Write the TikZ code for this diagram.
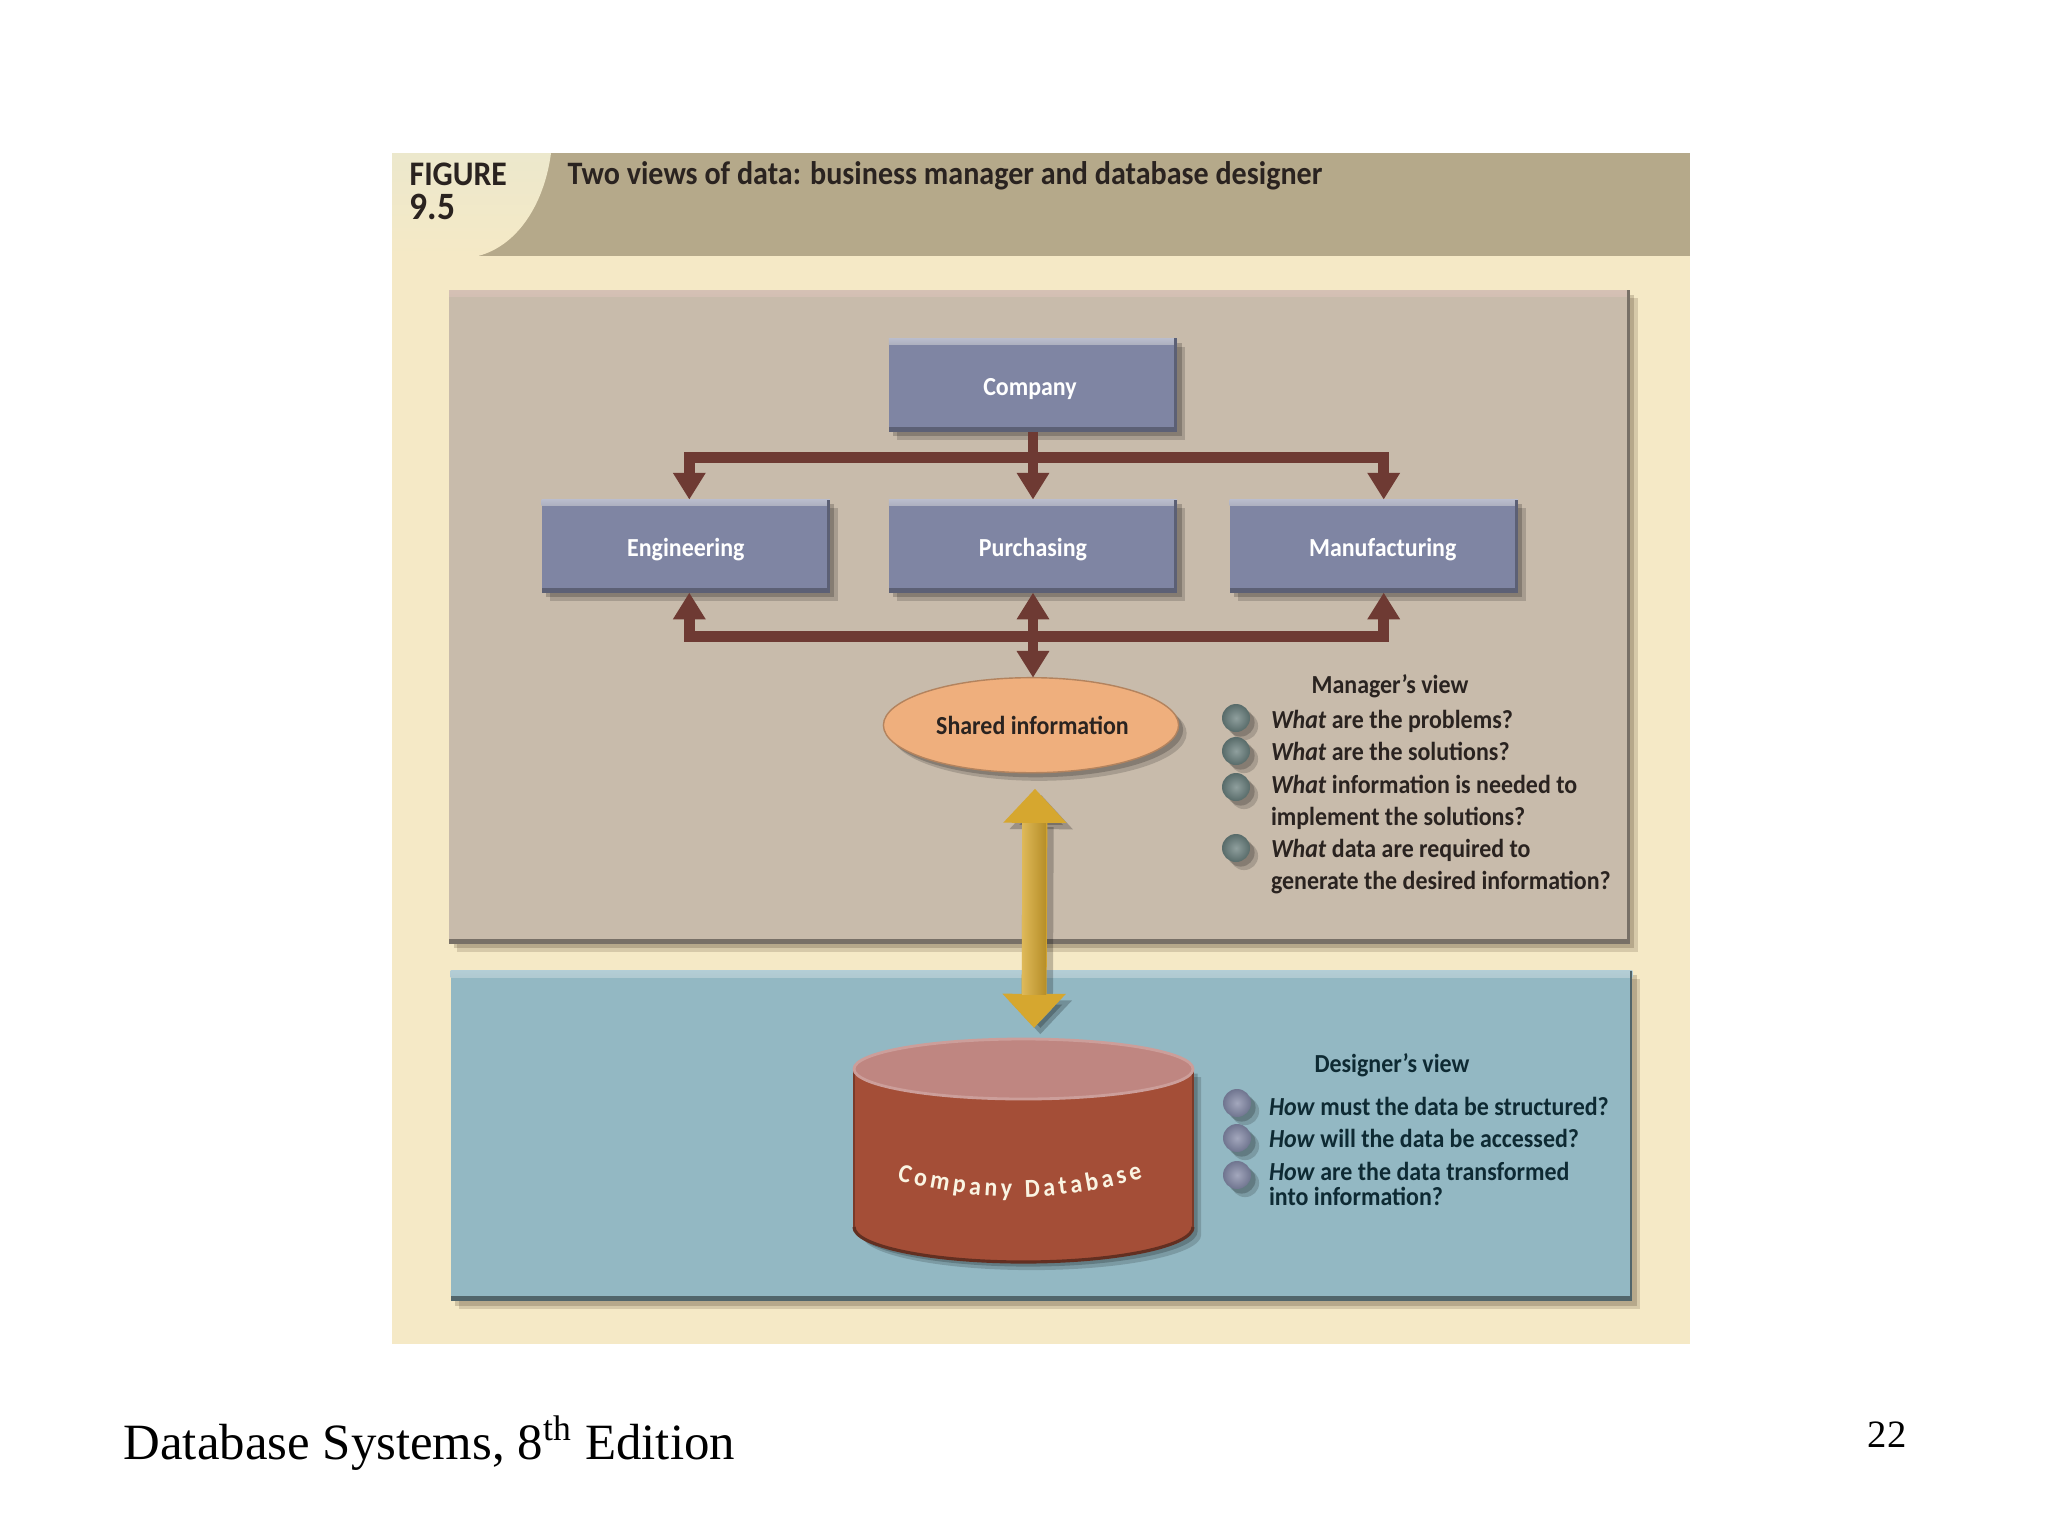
\documentclass[tikz,border=0pt]{standalone}
\usepackage{fontspec}
\setmainfont[FakeStretch=0.92]{Carlito}
\newfontfamily\footerfont{Liberation Serif}
\usetikzlibrary{positioning, shapes.geometric, arrows.meta, calc, shadows, decorations.text}

\definecolor{creamback}{HTML}{F5E9C6}
\definecolor{headerband}{HTML}{B5A98A}
\definecolor{cornerlight}{HTML}{ECE8CC}
\definecolor{managerfill}{HTML}{C8BBAB}
\definecolor{designerfill}{HTML}{93B8C3}
\definecolor{boxfill}{HTML}{7F85A3}
\definecolor{treecolor}{HTML}{6E3A33}
\definecolor{goldcolor}{HTML}{D6A72F}
\definecolor{sharedfill}{HTML}{EFAF7D}
\definecolor{dbbody}{HTML}{A44E37}
\definecolor{dbtop}{HTML}{BF8681}
\definecolor{inkdark}{HTML}{2A2320}
\definecolor{inkblue}{HTML}{0E2A33}
\definecolor{ballgrey}{HTML}{647A78}

\begin{document}
\begin{tikzpicture}[
    x=0.01cm, y=-0.01cm,
    bevel/.style n args={2}{path picture={
        \shade[top color=#1, bottom color=.] (path picture bounding box.north west) rectangle ([yshift=-1.8pt]path picture bounding box.north east);
        \fill[#2] (path picture bounding box.south west) rectangle ([yshift=1.4pt]path picture bounding box.south east);
        \fill[#2] (path picture bounding box.north east) rectangle ([xshift=-0.8pt]path picture bounding box.south east);
    }},
    softshadow/.style={drop shadow={shadow xshift=2.3pt, shadow yshift=-2.3pt, fill=#1, opacity=0.16}, drop shadow={shadow xshift=1.3pt, shadow yshift=-1.3pt, fill=#1, opacity=0.2}},
    panel/.style={rectangle, inner sep=0pt, outer sep=0pt, softshadow=black!70!brown},
    box/.style={rectangle, fill=boxfill, text=white, font=\fontsize{7.4}{8}\selectfont\bfseries, text height=7.6pt, text depth=1.5pt, minimum width=2.88cm, minimum height=0.93cm, inner sep=0pt, outer sep=0pt, bevel={boxfill!55!white}{boxfill!72!black}, softshadow=black},
    treearrow/.style={-{Triangle[width=8.8pt, length=7.6pt]}, line width=3.1pt, draw=treecolor},
    goldarrow/.style={{Triangle[width=17.4pt, length=9.7pt]}-{Triangle[width=17.4pt, length=9.7pt]}, line width=7.1pt, draw=goldcolor},
    ball/.style={circle, minimum size=0.28cm, inner sep=0pt, inner color=#1!72!white, outer color=#1!88!black, softshadow=black},
    question/.style={inner sep=0pt, outer sep=0pt, anchor=north west, align=left, text=#1, font=\fontsize{7.4}{9.2}\selectfont\bfseries},
    viewtitle/.style={inner sep=0pt, text=#1, font=\fontsize{7.4}{9.2}\selectfont\bfseries}
]
\useasboundingbox (0,0) rectangle (2048,1536);
\fill[white] (0,0) rectangle (2048,1536);

% Cream page and header band
\fill[creamback] (392,153) rectangle (1690,1344);
\fill[headerband] (392,153) rectangle (1690,256);
\shade[top color=cornerlight, bottom color=creamback] (392,153) -- (551,153) .. controls (545,200) and (520,245) .. (478,256) -- (392,256) -- cycle;

% Header texts
\node[inner sep=0pt, anchor=north west, align=left, text=inkdark, font=\fontsize{9.8}{10}\selectfont\bfseries] (figlabel) at (409,162) {FIGURE\\[-0.3pt]\fontsize{11}{10}\selectfont 9.5};
\node[inner sep=0pt, anchor=west, text=inkdark, font=\fontsize{9.3}{10}\selectfont\bfseries] (figtitle) at (567,176) {Two views of data: business manager and database designer};

% Panels
\node[panel, fill=managerfill, minimum width=11.8cm, minimum height=6.53cm, bevel={managerfill!80!white!96!red}{managerfill!60!black}] (managerpanel) at (1039.5,617) {};
\node[panel, fill=designerfill, minimum width=11.81cm, minimum height=3.3cm, bevel={designerfill!70!white}{designerfill!55!black}] (designerpanel) at (1041.5,1136) {};

% Organisation boxes
\node[box] (company) at (1033,385) {\hspace{-0.06cm}Company};
\node[box, below=0.68cm of company] (purchasing) {Purchasing};
\node[box, left=0.59cm of purchasing] (engineering) {Engineering};
\node[box, right=0.525cm of purchasing] (manufacturing) {\hspace{0.18cm}Manufacturing};

% Shared information
\node[ellipse, draw=sharedfill!75!black, fill=sharedfill, below=0.85cm of purchasing, xshift=-0.02cm, minimum width=2.95cm, minimum height=0.95cm, inner sep=0pt, outer sep=0pt, text=inkdark, font=\fontsize{7.4}{8}\selectfont\bfseries, text height=7pt, text depth=1.5pt, softshadow=black] (shared) {\hspace{0.03cm}Shared information};

% Database
\node[rectangle, minimum width=3.39cm, minimum height=2.23cm, inner sep=0pt, outer sep=0pt] (database) at (1023.5,1150.5) {};
\fill[dbbody, softshadow=black] (854,1069) -- (854,1227) .. controls (854,1246) and (930,1262) .. (1023.5,1262) .. controls (1117,1262) and (1193,1246) .. (1193,1227) -- (1193,1069) -- cycle;
\draw[line width=0.9pt, dbbody!60!black] (854,1227) .. controls (854,1246) and (930,1262) .. (1023.5,1262) .. controls (1117,1262) and (1193,1246) .. (1193,1227);
\draw[line width=0.6pt, dbbody!75!black] (854,1069) -- (854,1227);
\draw[line width=0.6pt, dbbody!75!black] (1193,1069) -- (1193,1227);
\fill[dbtop, draw=dbtop!80!white, line width=0.8pt] (1023.5,1069) ellipse [x radius=169.5, y radius=30];
\path[decorate, decoration={text along path, text align=fit to path, text={|\fontsize{7.4}{8}\selectfont\bfseries\color{creamback!50!white}|Company Database}}] (897,1180) .. controls (980,1203) and (1060,1203) .. (1143,1178);

% Bus coordinates
\coordinate[below=0.255cm of company] (topbus);
\coordinate[below=0.435cm of purchasing] (lowbus);

% Tree arrows
\draw[treearrow, -] (company) -- (topbus);
\draw[treearrow] (topbus) -- (purchasing);
\draw[treearrow] (topbus) -| ([xshift=0.035cm]engineering.north);
\draw[treearrow] (topbus) -| ([xshift=0.1cm]manufacturing.north);
\draw[treearrow] (lowbus) -- (purchasing);
\draw[treearrow] (lowbus) -| ([xshift=0.035cm]engineering.south);
\draw[treearrow] (lowbus) -| ([xshift=0.1cm]manufacturing.south);
\draw[treearrow] (lowbus) -- ([xshift=0.02cm]shared.north);

% Gold arrow
\draw[goldarrow, draw=black, opacity=0.22, transform canvas={shift={(1.8pt,-1.8pt)}}] ([shift={(4,16)}]shared.south) -- ([shift={(10.5,-11)}]database.north);
\draw[goldarrow] ([shift={(4,16)}]shared.south) -- ([shift={(10.5,-11)}]database.north);
\shade[left color=goldcolor!80!white, middle color=goldcolor, right color=goldcolor!85!black] (1022,823) rectangle (1046,994);

% Manager's view
\node[viewtitle=inkdark] (managertitle) at (1390,686) {Manager's view};
\node[ball=ballgrey] (mball1) at (1236,718) {};
\node[ball=ballgrey] (mball2) at (1236,751) {};
\node[ball=ballgrey] (mball3) at (1236,787) {};
\node[ball=ballgrey] (mball4) at (1236,848) {};
\node[question=inkdark] (mtext1) at (1271,710) {\textit{What} are the problems?};
\node[question=inkdark] (mtext2) at (1271,742) {\textit{What} are the solutions?};
\node[question=inkdark] (mtext3) at (1271,775) {\textit{What} information is needed to\\implement the solutions?};
\node[question=inkdark] (mtext4) at (1271,839) {\textit{What} data are required to\\generate the desired information?};

% Designer's view
\node[viewtitle=inkblue] (designertitle) at (1392,1065) {Designer's view};
\node[ball=boxfill] (dball1) at (1237,1103) {};
\node[ball=boxfill] (dball2) at (1237,1138) {};
\node[ball=boxfill] (dball3) at (1237,1175) {};
\node[question=inkblue] (dtext1) at (1269,1097) {\textit{How} must the data be structured?};
\node[question=inkblue] (dtext2) at (1269,1129) {\textit{How} will the data be accessed?};
\node[question=inkblue, font=\fontsize{7.4}{7.2}\selectfont\bfseries] (dtext3) at (1269,1162) {\textit{How} are the data transformed\\into information?};

% Footer
\node[inner sep=0pt, anchor=base west, font=\fontsize{14.46}{16}\selectfont\footerfont] (footertext) at (123,1459) {Database Systems, 8\textsuperscript{th} Edition};
\node[inner sep=0pt, font=\fontsize{11}{13}\selectfont\footerfont] (pagenum) at (1887,1435) {22};
\end{tikzpicture}
\end{document}
